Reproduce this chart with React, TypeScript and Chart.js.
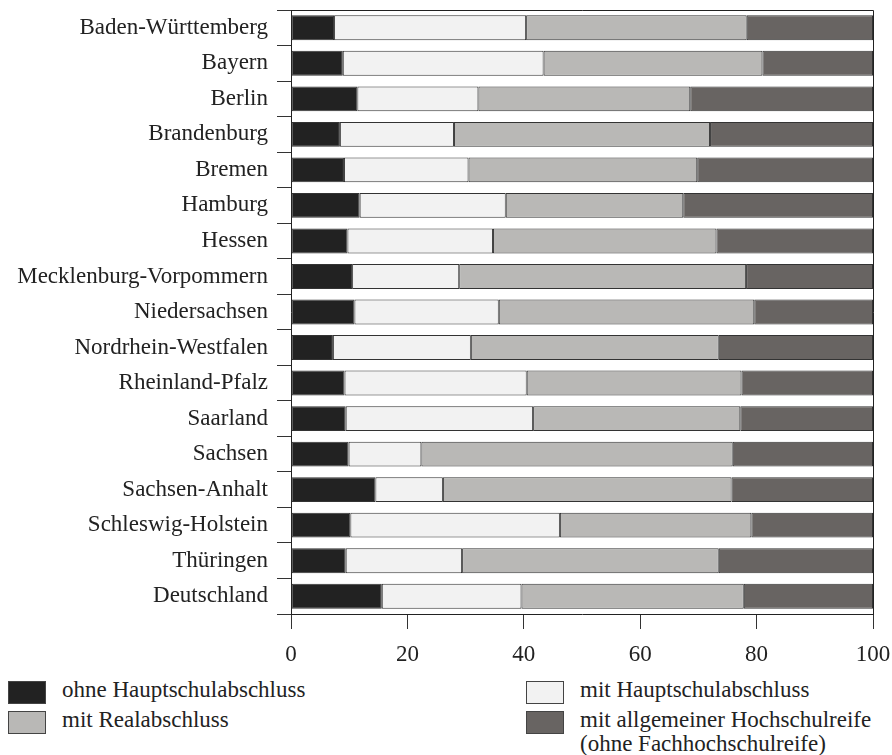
import React, { useEffect, useRef } from "react";
import { Chart, registerables } from "chart.js";

Chart.register(...registerables);

const categories = [
  "Baden-Württemberg",
  "Bayern",
  "Berlin",
  "Brandenburg",
  "Bremen",
  "Hamburg",
  "Hessen",
  "Mecklenburg-Vorpommern",
  "Niedersachsen",
  "Nordrhein-Westfalen",
  "Rheinland-Pfalz",
  "Saarland",
  "Sachsen",
  "Sachsen-Anhalt",
  "Schleswig-Holstein",
  "Thüringen",
  "Deutschland",
];

const ohneHauptschulabschluss = [7.4, 8.9, 11.4, 8.4, 9.1, 11.8, 9.7, 10.5, 10.9, 7.2, 9.2, 9.4, 9.9, 14.5, 10.2, 9.4, 15.6];
const mitHauptschulabschluss = [33.0, 34.5, 20.8, 19.6, 21.4, 25.1, 25.0, 18.4, 24.8, 23.7, 31.3, 32.2, 12.5, 11.6, 36.0, 20.0, 24.0];
const mitRealabschluss = [37.9, 37.6, 36.4, 44.0, 39.3, 30.5, 38.4, 49.3, 43.9, 42.6, 36.9, 35.6, 53.5, 49.6, 32.9, 44.1, 38.2];
const mitHochschulreife = [21.7, 19.0, 31.4, 28.0, 30.2, 32.6, 26.9, 21.8, 20.4, 26.5, 22.6, 22.8, 24.1, 24.3, 20.9, 26.5, 22.2];

const seriesLabels = [
  ["ohne Hauptschulabschluss"],
  ["mit Hauptschulabschluss"],
  ["mit Realabschluss"],
  ["mit allgemeiner Hochschulreife", "(ohne Fachhochschulreife)"],
];
const seriesColors = ["#222222", "#f2f2f2", "#b9b8b6", "#686462"];
const xTicks = [0, 20, 40, 60, 80, 100];

const FONT = '"Liberation Serif", "Times New Roman", serif';

const framePlugin = {
  id: "frame",
  afterDraw(chart: any) {
    const { ctx, chartArea } = chart;
    const { left, top, right, bottom } = chartArea;
    ctx.save();
    ctx.strokeStyle = "#222";
    ctx.lineWidth = 1;
    ctx.beginPath();
    ctx.moveTo(left, Math.round(top) + 0.5);
    ctx.lineTo(Math.round(right) + 0.5, Math.round(top) + 0.5);
    ctx.lineTo(Math.round(right) + 0.5, bottom);
    ctx.stroke();
    ctx.restore();
  },
};

export default function App() {
  const ref = useRef<HTMLCanvasElement | null>(null);

  useEffect(() => {
    if (!ref.current) return;
    const values = [ohneHauptschulabschluss, mitHauptschulabschluss, mitRealabschluss, mitHochschulreife];
    const chart = new Chart(ref.current, {
      type: "bar",
      data: {
        labels: categories,
        datasets: values.map((d, i) => ({
          label: seriesLabels[i].join(" "),
          data: d,
          backgroundColor: seriesColors[i],
          borderColor: "#333",
          borderWidth: 1,
          borderSkipped: false,
          barPercentage: 0.7,
          categoryPercentage: 1,
        })),
      },
      options: {
        indexAxis: "y",
        animation: false,
        responsive: false,
        devicePixelRatio: 1,
        layout: { padding: { top: 10, right: 19, bottom: 0, left: 0 } },
        plugins: {
          legend: { display: false },
          tooltip: { enabled: false },
        },
        scales: {
          x: {
            stacked: true,
            min: 0,
            max: 100,
            afterBuildTicks: (s: any) => {
              s.ticks = xTicks.map((v) => ({ value: v }));
            },
            afterFit: (s: any) => {
              s.height = 58;
              s.paddingLeft = 0;
              s.paddingRight = 0;
            },
            ticks: {
              color: "#222",
              font: { family: FONT, size: 23 },
              padding: 12,
              maxRotation: 0,
            },
            grid: {
              drawOnChartArea: false,
              drawTicks: true,
              tickLength: 15,
              color: "#333",
            },
            border: { display: true, color: "#222", width: 1 },
          },
          y: {
            stacked: true,
            afterFit: (s: any) => {
              s.width = 291;
              s.paddingTop = 0;
              s.paddingBottom = 0;
            },
            ticks: {
              color: "#222",
              font: { family: FONT, size: 23 },
              padding: 9,
            },
            grid: {
              offset: true,
              drawOnChartArea: false,
              drawTicks: true,
              tickLength: 14,
              color: "#333",
            },
            border: { display: true, color: "#222", width: 1 },
          },
        },
      },
      plugins: [framePlugin],
    });
    return () => chart.destroy();
  }, []);

  const legendPos = [
    { left: 8, top: 681 },
    { left: 526, top: 681 },
    { left: 8, top: 711 },
    { left: 526, top: 711 },
  ];

  return (
    <div style={{ position: "absolute", left: 0, top: 0, width: 892, height: 755, background: "#fff", overflow: "hidden" }}>
      <canvas ref={ref} width={892} height={672} style={{ display: "block", width: 892, height: 672 }} />
      {seriesLabels.map((lines, i) => (
        <div
          key={i}
          style={{
            position: "absolute",
            left: legendPos[i].left,
            top: legendPos[i].top,
            display: "flex",
            alignItems: "flex-start",
          }}
        >
          <div
            style={{
              width: 36,
              height: 21,
              background: seriesColors[i],
              border: "1px solid #444",
              flex: "none",
            }}
          />
          <div
            style={{
              marginLeft: 16,
              marginTop: -3,
              fontFamily: FONT,
              fontSize: 23,
              lineHeight: "24px",
              color: "#222",
              whiteSpace: "nowrap",
            }}
          >
            {lines.map((t, j) => (
              <div key={j}>{t}</div>
            ))}
          </div>
        </div>
      ))}
    </div>
  );
}
